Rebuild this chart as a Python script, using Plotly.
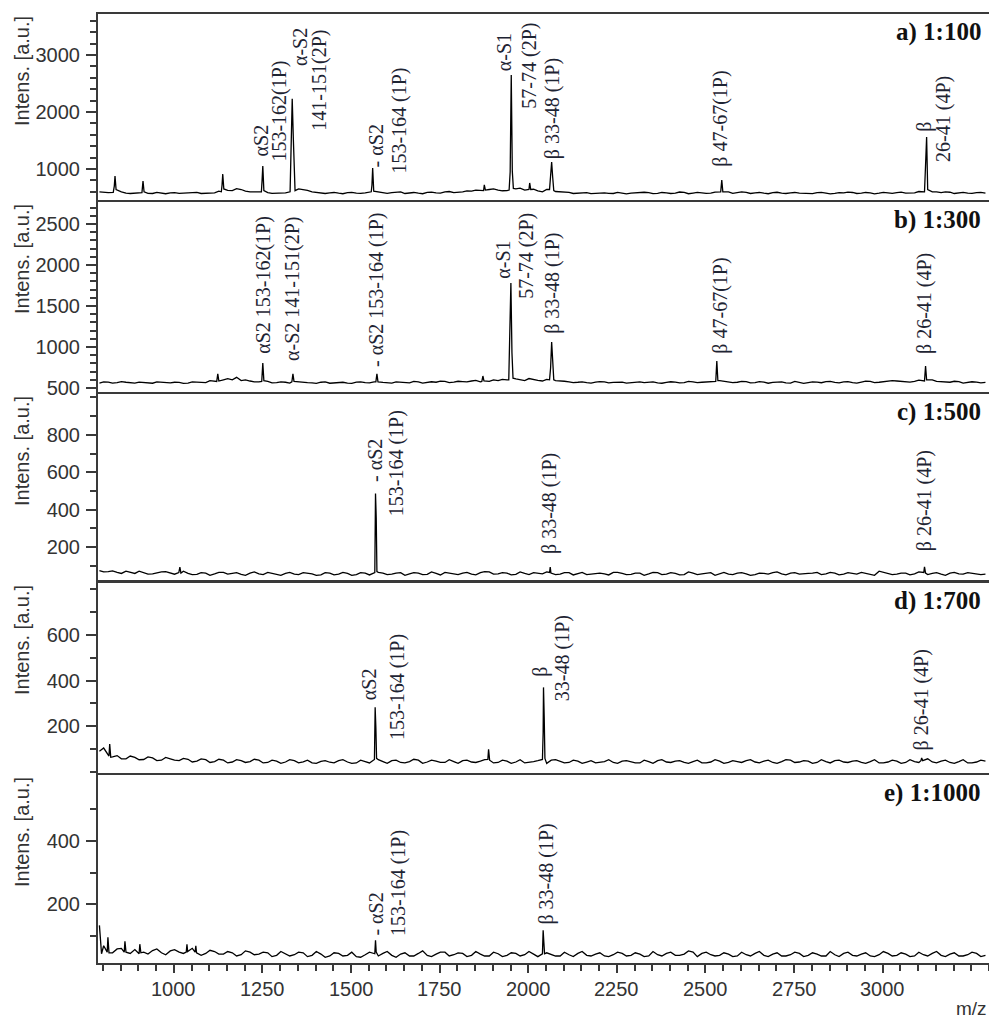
import plotly.graph_objects as go

# ---------------- data ----------------
MZ_GRID = [790, 815, 840, 865, 890, 915, 940, 965, 990, 1015, 1040, 1065, 1090, 1115, 1140, 1165, 1190,
           1215, 1240, 1265, 1290, 1315, 1340, 1365, 1390, 1415, 1440, 1465, 1490, 1515, 1540, 1565,
           1590, 1615, 1640, 1665, 1690, 1715, 1740, 1765, 1790, 1815, 1840, 1865, 1890, 1915, 1940,
           1965, 1990, 2015, 2040, 2065, 2090, 2115, 2140, 2165, 2190, 2215, 2240, 2265, 2290, 2315,
           2340, 2365, 2390, 2415, 2440, 2465, 2490, 2515, 2540, 2565, 2590, 2615, 2640, 2665, 2690,
           2715, 2740, 2765, 2790, 2815, 2840, 2865, 2890, 2915, 2940, 2965, 2990, 3015, 3040, 3065,
           3090, 3115, 3140, 3165, 3190, 3215, 3240, 3265, 3290]
MZ_GRID2 = [802, 827, 852, 877, 902, 927, 952, 977, 1002, 1027,
            1052, 1077, 1102, 1127, 1152, 1177, 1202, 1227, 1252, 1277,
            1302, 1327, 1352, 1377, 1402, 1427, 1452, 1477, 1502, 1527,
            1552, 1577, 1602, 1627, 1652, 1677, 1702, 1727, 1752, 1777,
            1802, 1827, 1852, 1877, 1902, 1927, 1952, 1977, 2002, 2027,
            2052, 2077, 2102, 2127, 2152, 2177, 2202, 2227, 2252, 2277,
            2302, 2327, 2352, 2377, 2402, 2427, 2452, 2477, 2502, 2527,
            2552, 2577, 2602, 2627, 2652, 2677, 2702, 2727, 2752, 2777,
            2802, 2827, 2852, 2877, 2902, 2927, 2952, 2977, 3002, 3027,
            3052, 3077, 3102, 3127, 3152, 3177, 3202, 3227, 3252, 3277]

BASE_A = [600, 585, 590, 575, 580, 585, 570, 575, 580, 572, 585, 590, 575, 580, 600, 620, 640,
          600, 590, 585, 575, 580, 610, 640, 600, 585, 580, 575, 585, 578, 582, 595,
          590, 585, 600, 580, 575, 590, 582, 598, 585, 600, 610, 620, 640, 630, 620,
          650, 630, 645, 600, 620, 600, 590, 578, 585, 575, 580, 570, 582, 575, 578,
          585, 572, 580, 576, 590, 578, 582, 575, 590, 600, 585, 590, 580, 575, 585,
          578, 582, 575, 580, 586, 578, 572, 580, 588, 576, 582, 575, 580, 585, 578,
          582, 590, 600, 585, 592, 580, 578, 585, 575]
BASE_A2 = [592, 578, 600, 570, 588, 572, 590, 566, 584, 576,
           596, 570, 588, 610, 625, 655, 612, 596, 590, 572,
           586, 568, 650, 625, 592, 570, 588, 566, 590, 572,
           588, 600, 574, 592, 570, 588, 566, 594, 576, 605,
           590, 615, 628, 640, 652, 618, 640, 665, 635, 615,
           640, 605, 588, 570, 590, 568, 586, 572, 590, 565,
           582, 592, 568, 588, 570, 596, 566, 590, 572, 594,
           612, 572, 598, 570, 588, 566, 592, 570, 588, 575,
           568, 590, 565, 585, 594, 570, 588, 565, 590, 572,
           594, 580, 605, 640, 600, 598, 570, 590, 572, 588]
BASE_B = [560, 572, 565, 570, 560, 566, 558, 570, 562, 568, 560, 572, 565, 580, 600, 600, 590,
          585, 575, 580, 565, 570, 590, 568, 562, 570, 558, 566, 560, 572, 565, 575,
          568, 560, 570, 562, 575, 566, 570, 580, 572, 578, 585, 575, 580, 590, 600,
          610, 590, 600, 585, 600, 590, 575, 570, 566, 572, 575, 568, 572, 565, 575,
          570, 562, 568, 572, 566, 575, 570, 578, 590, 575, 570, 578, 566, 572, 568,
          575, 560, 570, 566, 572, 578, 568, 575, 565, 572, 580, 570, 578, 585, 575,
          580, 590, 600, 575, 570, 578, 566, 572, 568]
BASE_B2 = [575, 560, 578, 563, 572, 558, 575, 562, 570, 556,
           575, 565, 590, 600, 615, 630, 598, 575, 582, 562,
           575, 560, 578, 565, 556, 574, 562, 570, 556, 575,
           562, 578, 560, 574, 566, 580, 560, 576, 584, 566,
           582, 575, 592, 584, 598, 606, 612, 598, 615, 592,
           605, 590, 582, 566, 575, 560, 578, 562, 574, 560,
           578, 565, 574, 558, 576, 562, 580, 566, 574, 584,
           582, 566, 580, 562, 578, 558, 575, 562, 580, 556,
           575, 564, 580, 562, 578, 560, 584, 566, 575, 590,
           582, 572, 596, 612, 580, 566, 582, 560, 576, 562]
BASE_C = [75, 70, 66, 72, 60, 65, 58, 68, 62, 66, 60, 55, 62, 58, 66, 60, 55,
          62, 58, 66, 55, 60, 56, 64, 58, 52, 62, 56, 60, 54, 62, 58,
          62, 56, 64, 58, 62, 55, 60, 66, 58, 62, 56, 64, 68, 58, 62,
          55, 60, 64, 58, 62, 56, 64, 58, 54, 62, 58, 66, 60, 55, 62,
          58, 64, 56, 60, 54, 62, 58, 64, 60, 56, 62, 58, 54, 60, 64,
          58, 62, 56, 60, 66, 58, 62, 56, 60, 66, 58, 72, 60, 56, 62,
          58, 64, 60, 56, 62, 58, 64, 60, 56]
BASE_C2 = [68, 74, 60, 66, 72, 56, 64, 70, 56, 72,
           54, 64, 50, 66, 56, 64, 50, 68, 54, 62,
           50, 66, 54, 62, 50, 64, 52, 66, 50, 64,
           52, 66, 54, 62, 50, 64, 54, 68, 52, 62,
           54, 66, 52, 70, 56, 64, 52, 68, 54, 62,
           68, 54, 64, 52, 66, 56, 62, 52, 66, 54,
           62, 50, 66, 54, 64, 52, 68, 54, 62, 50,
           66, 54, 64, 50, 62, 56, 68, 52, 64, 56,
           62, 54, 66, 52, 64, 56, 62, 50, 66, 54,
           62, 52, 68, 54, 64, 50, 66, 56, 62, 54]
BASE_D = [91, 60, 72, 58, 64, 55, 62, 52, 58, 50, 56, 48, 54, 46, 52, 44, 50,
          46, 52, 42, 48, 44, 50, 45, 40, 47, 43, 50, 44, 40, 46, 48,
          44, 50, 42, 46, 52, 44, 48, 42, 46, 50, 44, 48, 46, 42, 48,
          44, 40, 46, 48, 52, 46, 42, 48, 44, 40, 46, 42, 48, 44, 40,
          46, 50, 44, 48, 42, 46, 40, 44, 48, 42, 46, 50, 44, 48, 42,
          46, 52, 44, 48, 42, 46, 50, 44, 48, 42, 46, 40, 44, 48, 42,
          46, 50, 44, 48, 42, 46, 40, 44, 48]
BASE_D2 = [105, 66, 58, 70, 54, 66, 50, 64, 52, 60,
           44, 58, 42, 56, 40, 54, 42, 56, 40, 52,
           38, 54, 40, 52, 38, 50, 40, 54, 38, 52,
           40, 54, 38, 52, 40, 56, 38, 52, 42, 54,
           38, 52, 42, 54, 40, 52, 38, 54, 42, 50,
           38, 54, 40, 52, 38, 50, 42, 54, 38, 50,
           40, 52, 38, 54, 42, 50, 38, 52, 40, 54,
           38, 50, 42, 54, 40, 52, 38, 54, 42, 50,
           38, 54, 40, 52, 42, 50, 38, 54, 40, 52,
           38, 54, 42, 58, 40, 52, 38, 54, 40, 52]
BASE_E = [134, 55, 60, 52, 58, 50, 55, 48, 54, 50, 58, 52, 46, 52, 44, 48, 42,
          50, 44, 48, 40, 46, 42, 48, 40, 44, 38, 46, 40, 36, 42, 40,
          46, 40, 44, 38, 46, 40, 44, 50, 42, 46, 40, 44, 38, 45, 40,
          46, 42, 44, 40, 44, 38, 42, 46, 40, 44, 38, 42, 46, 40, 44,
          38, 42, 46, 40, 44, 50, 46, 42, 40, 44, 38, 42, 46, 40, 44,
          38, 42, 46, 40, 44, 38, 42, 46, 40, 44, 38, 42, 46, 40, 44,
          38, 42, 46, 40, 44, 38, 42, 46, 40]
BASE_E2 = [70, 48, 62, 46, 56, 44, 60, 42, 58, 46,
           62, 40, 56, 44, 52, 38, 54, 42, 50, 36,
           52, 38, 50, 36, 52, 34, 48, 38, 50, 34,
           50, 38, 52, 34, 48, 38, 54, 36, 50, 38,
           48, 36, 52, 38, 50, 36, 48, 38, 52, 36,
           48, 38, 50, 36, 52, 38, 48, 36, 50, 38,
           48, 36, 52, 38, 50, 40, 54, 36, 50, 38,
           48, 36, 50, 38, 52, 36, 48, 38, 50, 36,
           48, 38, 52, 36, 50, 38, 48, 36, 52, 38,
           48, 36, 50, 38, 52, 36, 48, 38, 50, 36]

PK_A_MZ = [829, 832, 834, 837, 910, 913, 916, 1134, 1136, 1138, 1141, 1247, 1249, 1251, 1254,
           1328, 1331, 1334, 1337, 1342, 1557, 1559, 1561, 1564, 1874, 1876, 1879,
           1946, 1949, 1952, 1955, 1958, 2002, 2004, 2007, 2060, 2062, 2066, 2069, 2072,
           2543, 2546, 2549, 3118, 3121, 3124, 3127]
PK_A_INT = [590, 700, 877, 640, 585, 790, 600, 600, 720, 912, 650, 600, 800, 1050, 620,
            600, 1330, 2230, 1560, 620, 600, 720, 1017, 610, 620, 720, 630,
            630, 950, 2650, 960, 660, 640, 755, 640, 640, 820, 1120, 850, 620,
            600, 807, 600, 600, 1070, 1560, 640]
PK_B_MZ = [1121, 1124, 1127, 1248, 1251, 1254, 1333, 1336, 1339, 1570, 1573, 1576, 1869, 1872, 1875,
           1945, 1948, 1951, 1954, 1957, 2060, 2063, 2066, 2069, 2072, 2529, 2532, 2535, 3118, 3121, 3124]
PK_B_INT = [580, 671, 585, 580, 805, 590, 575, 671, 580, 575, 671, 575, 580, 646, 585,
            600, 1195, 1780, 927, 620, 600, 744, 1061, 760, 600, 580, 829, 590, 585, 768, 600]
PK_C_MZ = [1014, 1017, 1020, 1567, 1569, 1571, 1573, 2060, 2062, 2064, 3116, 3118, 3121]
PK_C_INT = [65, 94, 62, 65, 487, 359, 70, 65, 94, 62, 65, 95, 62]
PK_D_MZ = [817, 819, 822, 1566, 1568, 1570, 1572, 1886, 1888, 1891, 2040, 2042, 2043, 2045, 2047,
           3108, 3110, 3113]
PK_D_INT = [70, 122, 65, 55, 283, 196, 60, 55, 100, 52, 55, 174, 370, 239, 60, 50, 62, 50]
PK_E_MZ = [796, 812, 814, 817, 860, 862, 865, 902, 904, 907, 1035, 1037, 1039, 1060, 1062, 1064,
           1567, 1569, 1571, 2040, 2042, 2044, 2046]
PK_E_INT = [45, 50, 97, 48, 50, 84, 50, 45, 75, 48, 50, 75, 52, 50, 70, 48,
            45, 87, 50, 45, 119, 81, 45]

# peak labels: text, m/z of the text column, intensity at the lower end of the text
LBL_A_TEXT = ["αS2", "153-162(1P)", "α-S2", "141-151(2P)", "- αS2", "153-164 (1P)", "α-S1",
              "57-74 (2P)", "β 33-48 (1P)", "β 47-67(1P)", "β", "26-41 (4P)"]
LBL_A_MZ = [1247, 1297, 1356, 1410, 1570, 1637, 1932, 2004, 2069, 2540, 3116, 3170]
LBL_A_Y = [1210, 1105, 2789, 1649, 1017, 895, 2701, 2035, 1158, 1017, 1631, 1105]
LBL_B_TEXT = ["αS2 153-162(1P)", "α-S2 141-151(2P)", "- αS2 153-164 (1P)", "α-S1", "57-74 (2P)",
              "β 33-48 (1P)", "β 47-67(1P)", "β 26-41 (4P)"]
LBL_B_MZ = [1251, 1336, 1573, 1928, 1996, 2068, 2540, 3118]
LBL_B_Y = [902, 817, 744, 1817, 1573, 1146, 902, 902]
LBL_C_TEXT = ["- αS2", "153-164 (1P)", "β 33-48 (1P)", "β 26-41 (4P)"]
LBL_C_MZ = [1567, 1629, 2062, 3118]
LBL_C_Y = [545, 359, 157, 173]
LBL_D_TEXT = ["αS2", "153-164 (1P)", "β", "33-48 (1P)", "β 26-41 (4P)"]
LBL_D_MZ = [1553, 1629, 2034, 2097, 3110]
LBL_D_Y = [309, 135, 413, 304, 91]
LBL_E_TEXT = ["- αS2", "153-164 (1P)", "β 33-48 (1P)"]
LBL_E_MZ = [1570, 1632, 2052]
LBL_E_Y = [100, 97, 134]

PANEL_TITLES = ["a) 1:100", "b) 1:300", "c) 1:500", "d) 1:700", "e) 1:1000"]
Y_RANGES = [[456, 3719], [451, 2768], [25, 1018], [-4, 826], [16, 606]]
Y_MAJOR = [[1000, 2000, 3000], [500, 1000, 1500, 2000, 2500], [200, 400, 600, 800],
           [200, 400, 600], [200, 400]]
Y_MINOR = [[600, 800, 1200, 1400, 1600, 1800, 2200, 2400, 2600, 2800, 3200, 3400, 3600],
           [600, 700, 800, 900, 1100, 1200, 1300, 1400, 1600, 1700, 1800, 1900, 2100, 2200,
            2300, 2400, 2600, 2700],
           [100, 300, 500, 700, 900, 1000],
           [0, 100, 300, 500, 700, 800],
           [100, 300, 500]]
X_RANGE = [786, 3300]
X_MAJOR = [1000, 1250, 1500, 1750, 2000, 2250, 2500, 2750, 3000]
X_MINOR = [800, 850, 900, 950, 1050, 1100, 1150, 1200, 1300, 1350, 1400, 1450, 1550, 1600, 1650,
           1700, 1800, 1850, 1900, 1950, 2050, 2100, 2150, 2200, 2300, 2350, 2400, 2450, 2550,
           2600, 2650, 2700, 2800, 2850, 2900, 2950, 3050, 3100, 3150, 3200, 3250, 3300]

# ---------------- figure ----------------
W, H = 989, 1019
ML, MR, MT, MB = 98, 0, 14, 56
PH = H - MT - MB
PANEL_PX = [(14, 200), (202, 392), (394, 580), (583, 773), (775, 963)]

bases = [BASE_A, BASE_B, BASE_C, BASE_D, BASE_E]
bases2 = [BASE_A2, BASE_B2, BASE_C2, BASE_D2, BASE_E2]
pk_mz = [PK_A_MZ, PK_B_MZ, PK_C_MZ, PK_D_MZ, PK_E_MZ]
pk_int = [PK_A_INT, PK_B_INT, PK_C_INT, PK_D_INT, PK_E_INT]
lbl_text = [LBL_A_TEXT, LBL_B_TEXT, LBL_C_TEXT, LBL_D_TEXT, LBL_E_TEXT]
lbl_mz = [LBL_A_MZ, LBL_B_MZ, LBL_C_MZ, LBL_D_MZ, LBL_E_MZ]
lbl_y = [LBL_A_Y, LBL_B_Y, LBL_C_Y, LBL_D_Y, LBL_E_Y]

AX_COLOR = "#3a3a3a"
TXT_COLOR = "#333333"
LBL_COLOR = "#1e2433"
SANS = "Liberation Sans, Arial, sans-serif"
SERIF = "Liberation Serif, Times New Roman, serif"

fig = go.Figure()
annotations = []
layout = dict(width=W, height=H, margin=dict(l=ML, r=MR, t=MT, b=MB),
              plot_bgcolor="white", paper_bgcolor="white", showlegend=False)

for i in range(5):
    n = "" if i == 0 else str(i + 1)
    base_pts = list(zip(MZ_GRID, bases[i])) + list(zip(MZ_GRID2, bases2[i]))
    # baseline samples that fall inside a peak are replaced by the peak profile
    base_pts = [p for p in base_pts if all(abs(p[0] - m) > 3 for m in pk_mz[i])]
    pts = sorted(base_pts + list(zip(pk_mz[i], pk_int[i])))
    fig.add_trace(go.Scatter(x=[p[0] for p in pts], y=[p[1] for p in pts], mode="lines",
                             line=dict(color="black", width=1.3),
                             xaxis="x" + n, yaxis="y" + n, hoverinfo="skip"))
    top, bot = PANEL_PX[i]
    dom = [(H - MB - bot) / PH, (H - MB - top) / PH]
    last = i == 4
    layout["xaxis" + n] = dict(
        domain=[0, 1], anchor="y" + n, range=X_RANGE, showline=True, mirror=True,
        linecolor=AX_COLOR, linewidth=2, showgrid=False, zeroline=False,
        ticks="outside" if last else "", showticklabels=False,
        tickmode="array", tickvals=X_MAJOR, ticklen=8, tickwidth=1.5, tickcolor=AX_COLOR,
        minor=dict(tickmode="array", tickvals=X_MINOR, ticks="outside" if last else "",
                   ticklen=6, tickwidth=1.5, tickcolor=AX_COLOR),
    )
    if not last:
        layout["xaxis" + n]["matches"] = "x5"
    layout["yaxis" + n] = dict(
        domain=dom, anchor="x" + n, range=Y_RANGES[i], showline=True, mirror=False,
        linecolor=AX_COLOR, linewidth=2, showgrid=False, zeroline=False,
        ticks="outside", tickmode="array", tickvals=Y_MAJOR[i], ticklen=10, tickwidth=1.5,
        tickcolor=AX_COLOR, tickfont=dict(family=SANS, size=20, color=TXT_COLOR),
        minor=dict(tickmode="array", tickvals=Y_MINOR[i], ticks="outside", ticklen=6,
                   tickwidth=1.5, tickcolor=AX_COLOR),
        ticklabelstandoff=2,
    )
    # y-axis title
    annotations.append(dict(text="Intens. [a.u.]", xref="paper", yref="paper",
                            x=(22 - ML) / (W - ML - MR), y=dom[1], xanchor="center", yanchor="top",
                            textangle=-90, showarrow=False,
                            font=dict(family=SANS, size=20, color=TXT_COLOR)))
    # panel title
    annotations.append(dict(text="<b>" + PANEL_TITLES[i] + "</b>", xref="paper", yref="paper",
                            x=(983 - ML) / (W - ML - MR), y=dom[1] - 18 / PH,
                            xanchor="right", yanchor="middle", showarrow=False,
                            font=dict(family=SERIF, size=25, color="#111111")))
    # peak labels
    for t, mz, yv in zip(lbl_text[i], lbl_mz[i], lbl_y[i]):
        annotations.append(dict(text=t, xref="x" + n, yref="y" + n, x=mz, y=yv,
                                xanchor="center", yanchor="bottom", textangle=-90,
                                showarrow=False, borderpad=0,
                                font=dict(family=SERIF, size=20, color=LBL_COLOR)))

# x tick labels of the bottom axis, placed at their data positions on x5
for v in X_MAJOR:
    annotations.append(dict(text=str(v), xref="x5", yref="paper", x=v, y=(H - MB - 989) / PH,
                            xanchor="center", yanchor="middle", showarrow=False,
                            font=dict(family=SANS, size=20, color=TXT_COLOR)))

annotations.append(dict(text="m/z", xref="paper", yref="paper",
                        x=(954 - ML) / (W - ML - MR), y=(H - MB - 1008) / PH,
                        xanchor="left", yanchor="middle", showarrow=False,
                        font=dict(family=SANS, size=19, color=TXT_COLOR)))
layout["annotations"] = annotations
fig.update_layout(**layout)
fig.write_html("out.html")
